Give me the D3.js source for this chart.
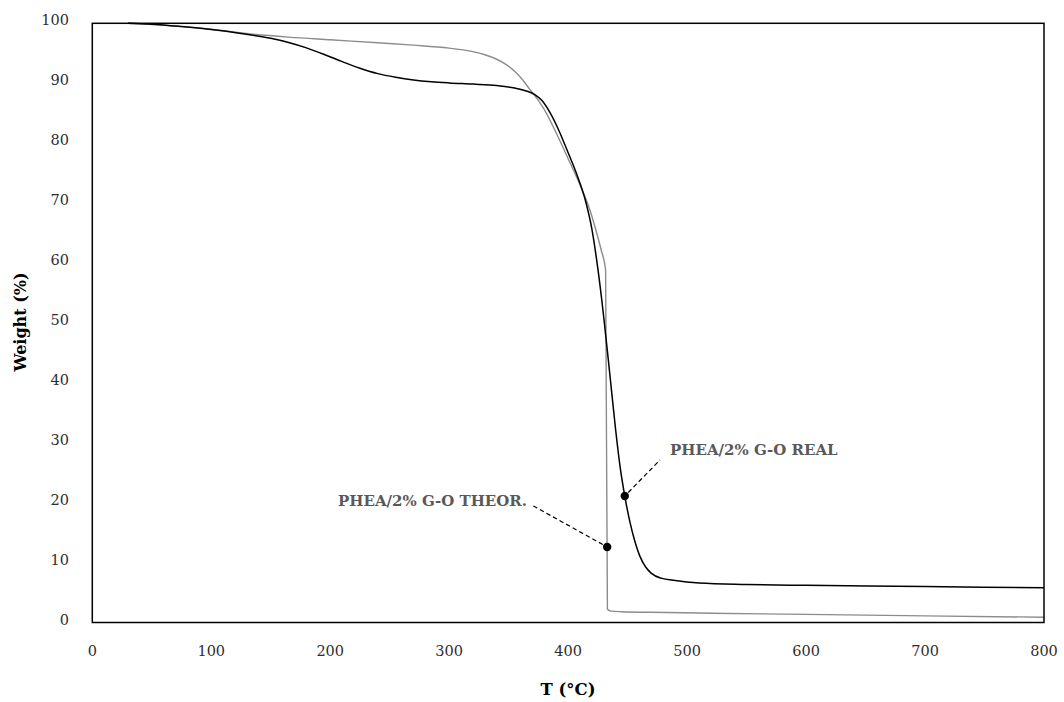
<!DOCTYPE html>
<html>
<head>
<meta charset="utf-8">
<script src="https://cdn.jsdelivr.net/npm/d3@7"></script>
<style>
  html, body { margin: 0; padding: 0; background: #fff; }
  svg { display: block; }
</style>
</head>
<body>
<svg id="chart" width="1064" height="702"></svg>
<script>
// Thermogravimetric curves: temperature (°C) vs residual weight (%)
const realT = [30, 50, 75, 100, 125, 150, 165, 180, 195, 210, 225, 240, 255, 270, 285, 300, 320, 340, 355, 365, 372, 378, 385, 392, 400, 408, 414, 420, 425, 430, 435, 440, 444, 447.6, 452, 456, 460, 465, 470, 478, 490, 510, 550, 600, 700, 800];
const realW = [100, 99.85, 99.45, 98.95, 98.3, 97.5, 96.8, 95.9, 94.8, 93.6, 92.5, 91.6, 91.0, 90.55, 90.25, 90.05, 89.85, 89.6, 89.2, 88.7, 88.1, 87.1, 85.0, 82.2, 78.4, 74.4, 70.8, 65.6, 59.0, 50.8, 41.5, 32.0, 25.5, 21.1, 16.7, 13.6, 11.2, 9.3, 8.2, 7.4, 7.0, 6.6, 6.35, 6.2, 6.0, 5.8];

const theorT = [30, 60, 100, 135, 165, 200, 240, 270, 300, 318, 330, 340, 348, 355, 362, 368, 374, 380, 390, 400, 410, 418, 424, 428, 431.5, 433, 436, 445, 470, 520, 600, 700, 800];
const theorW = [100, 99.7, 99.0, 98.2, 97.7, 97.25, 96.75, 96.35, 95.85, 95.35, 94.75, 94.0, 93.1, 92.0, 90.5, 88.9, 87.4, 85.6, 81.7, 77.4, 73.0, 69.0, 65.0, 62.0, 58.8, 2.2, 1.9, 1.8, 1.7, 1.55, 1.35, 1.1, 0.88];

const xTicks = [0, 100, 200, 300, 400, 500, 600, 700, 800];
const yTicks = [0, 10, 20, 30, 40, 50, 60, 70, 80, 90, 100];

// Labelled points on each curve
const labelNames = ["PHEA/2% G-O REAL", "PHEA/2% G-O THEOR."];
const labelT = [447.6, 432.8];
const labelW = [21.1, 12.6];

const svg = d3.select("#chart");
const plotL = 92.3, plotR = 1044, plotT = 23.3, plotB = 622.5;

const x = d3.scaleLinear().domain([0, 800]).range([plotL, plotR]);
const y = d3.scaleLinear().domain([0, 100]).range([plotB, plotT]);

const serif = "'DejaVu Serif', 'Liberation Serif', serif";

// Tick labels (no tick marks)
svg.append("g")
  .selectAll("text").data(yTicks).join("text")
  .attr("x", 69).attr("y", d => y(d) - 2)
  .attr("text-anchor", "end").attr("dominant-baseline", "middle")
  .attr("font-family", serif).attr("font-size", 14.5).attr("fill", "#2e2e2e")
  .text(d => d);

svg.append("g")
  .selectAll("text").data(xTicks).join("text")
  .attr("x", d => x(d)).attr("y", 652)
  .attr("text-anchor", "middle").attr("dominant-baseline", "middle")
  .attr("font-family", serif).attr("font-size", 14.5).attr("fill", "#2e2e2e")
  .text(d => d);

// Curves
const line = d3.line().x(d => x(d[0])).y(d => y(d[1])).curve(d3.curveMonotoneX);

svg.append("path")
  .datum(d3.zip(theorT, theorW))
  .attr("d", line).attr("fill", "none")
  .attr("stroke", "#8c8c8c").attr("stroke-width", 1.4);

svg.append("path")
  .datum(d3.zip(realT, realW))
  .attr("d", line).attr("fill", "none")
  .attr("stroke", "#000").attr("stroke-width", 1.5);

// Plot frame
svg.append("rect")
  .attr("x", plotL).attr("y", plotT)
  .attr("width", plotR - plotL).attr("height", plotB - plotT)
  .attr("fill", "none").attr("stroke", "#000").attr("stroke-width", 1.5);

// Annotations: dot, dashed leader, label
const leaderEnd = [[660, 460], [531.7, 505]];
const textPos = [[670, 451], [338, 502]];

labelNames.forEach((name, i) => {
  const px = x(labelT[i]), py = y(labelW[i]);
  const ex = leaderEnd[i][0], ey = leaderEnd[i][1];
  const dx = ex - px, dy = ey - py, len = Math.hypot(dx, dy);
  svg.append("line")
    .attr("x1", px + dx / len * 5).attr("y1", py + dy / len * 5)
    .attr("x2", ex).attr("y2", ey)
    .attr("stroke", "#000").attr("stroke-width", 1.2)
    .attr("stroke-dasharray", "4.5,3");
  svg.append("circle")
    .attr("cx", px).attr("cy", py).attr("r", 4.2).attr("fill", "#000");
  svg.append("text")
    .attr("x", textPos[i][0]).attr("y", textPos[i][1])
    .attr("dominant-baseline", "middle")
    .attr("font-family", serif).attr("font-weight", "bold")
    .attr("font-size", 15).attr("fill", "#595959")
    .text(name);
});

// Axis titles
svg.append("text")
  .attr("x", 568).attr("y", 690)
  .attr("text-anchor", "middle").attr("dominant-baseline", "middle")
  .attr("font-family", serif).attr("font-weight", "bold")
  .attr("font-size", 16.5).attr("fill", "#000")
  .text("T (°C)");

svg.append("text")
  .attr("transform", "translate(21,322) rotate(-90)")
  .attr("text-anchor", "middle").attr("dominant-baseline", "middle")
  .attr("font-family", serif).attr("font-weight", "bold")
  .attr("font-size", 16).attr("fill", "#000")
  .text("Weight (%)");
</script>
</body>
</html>
